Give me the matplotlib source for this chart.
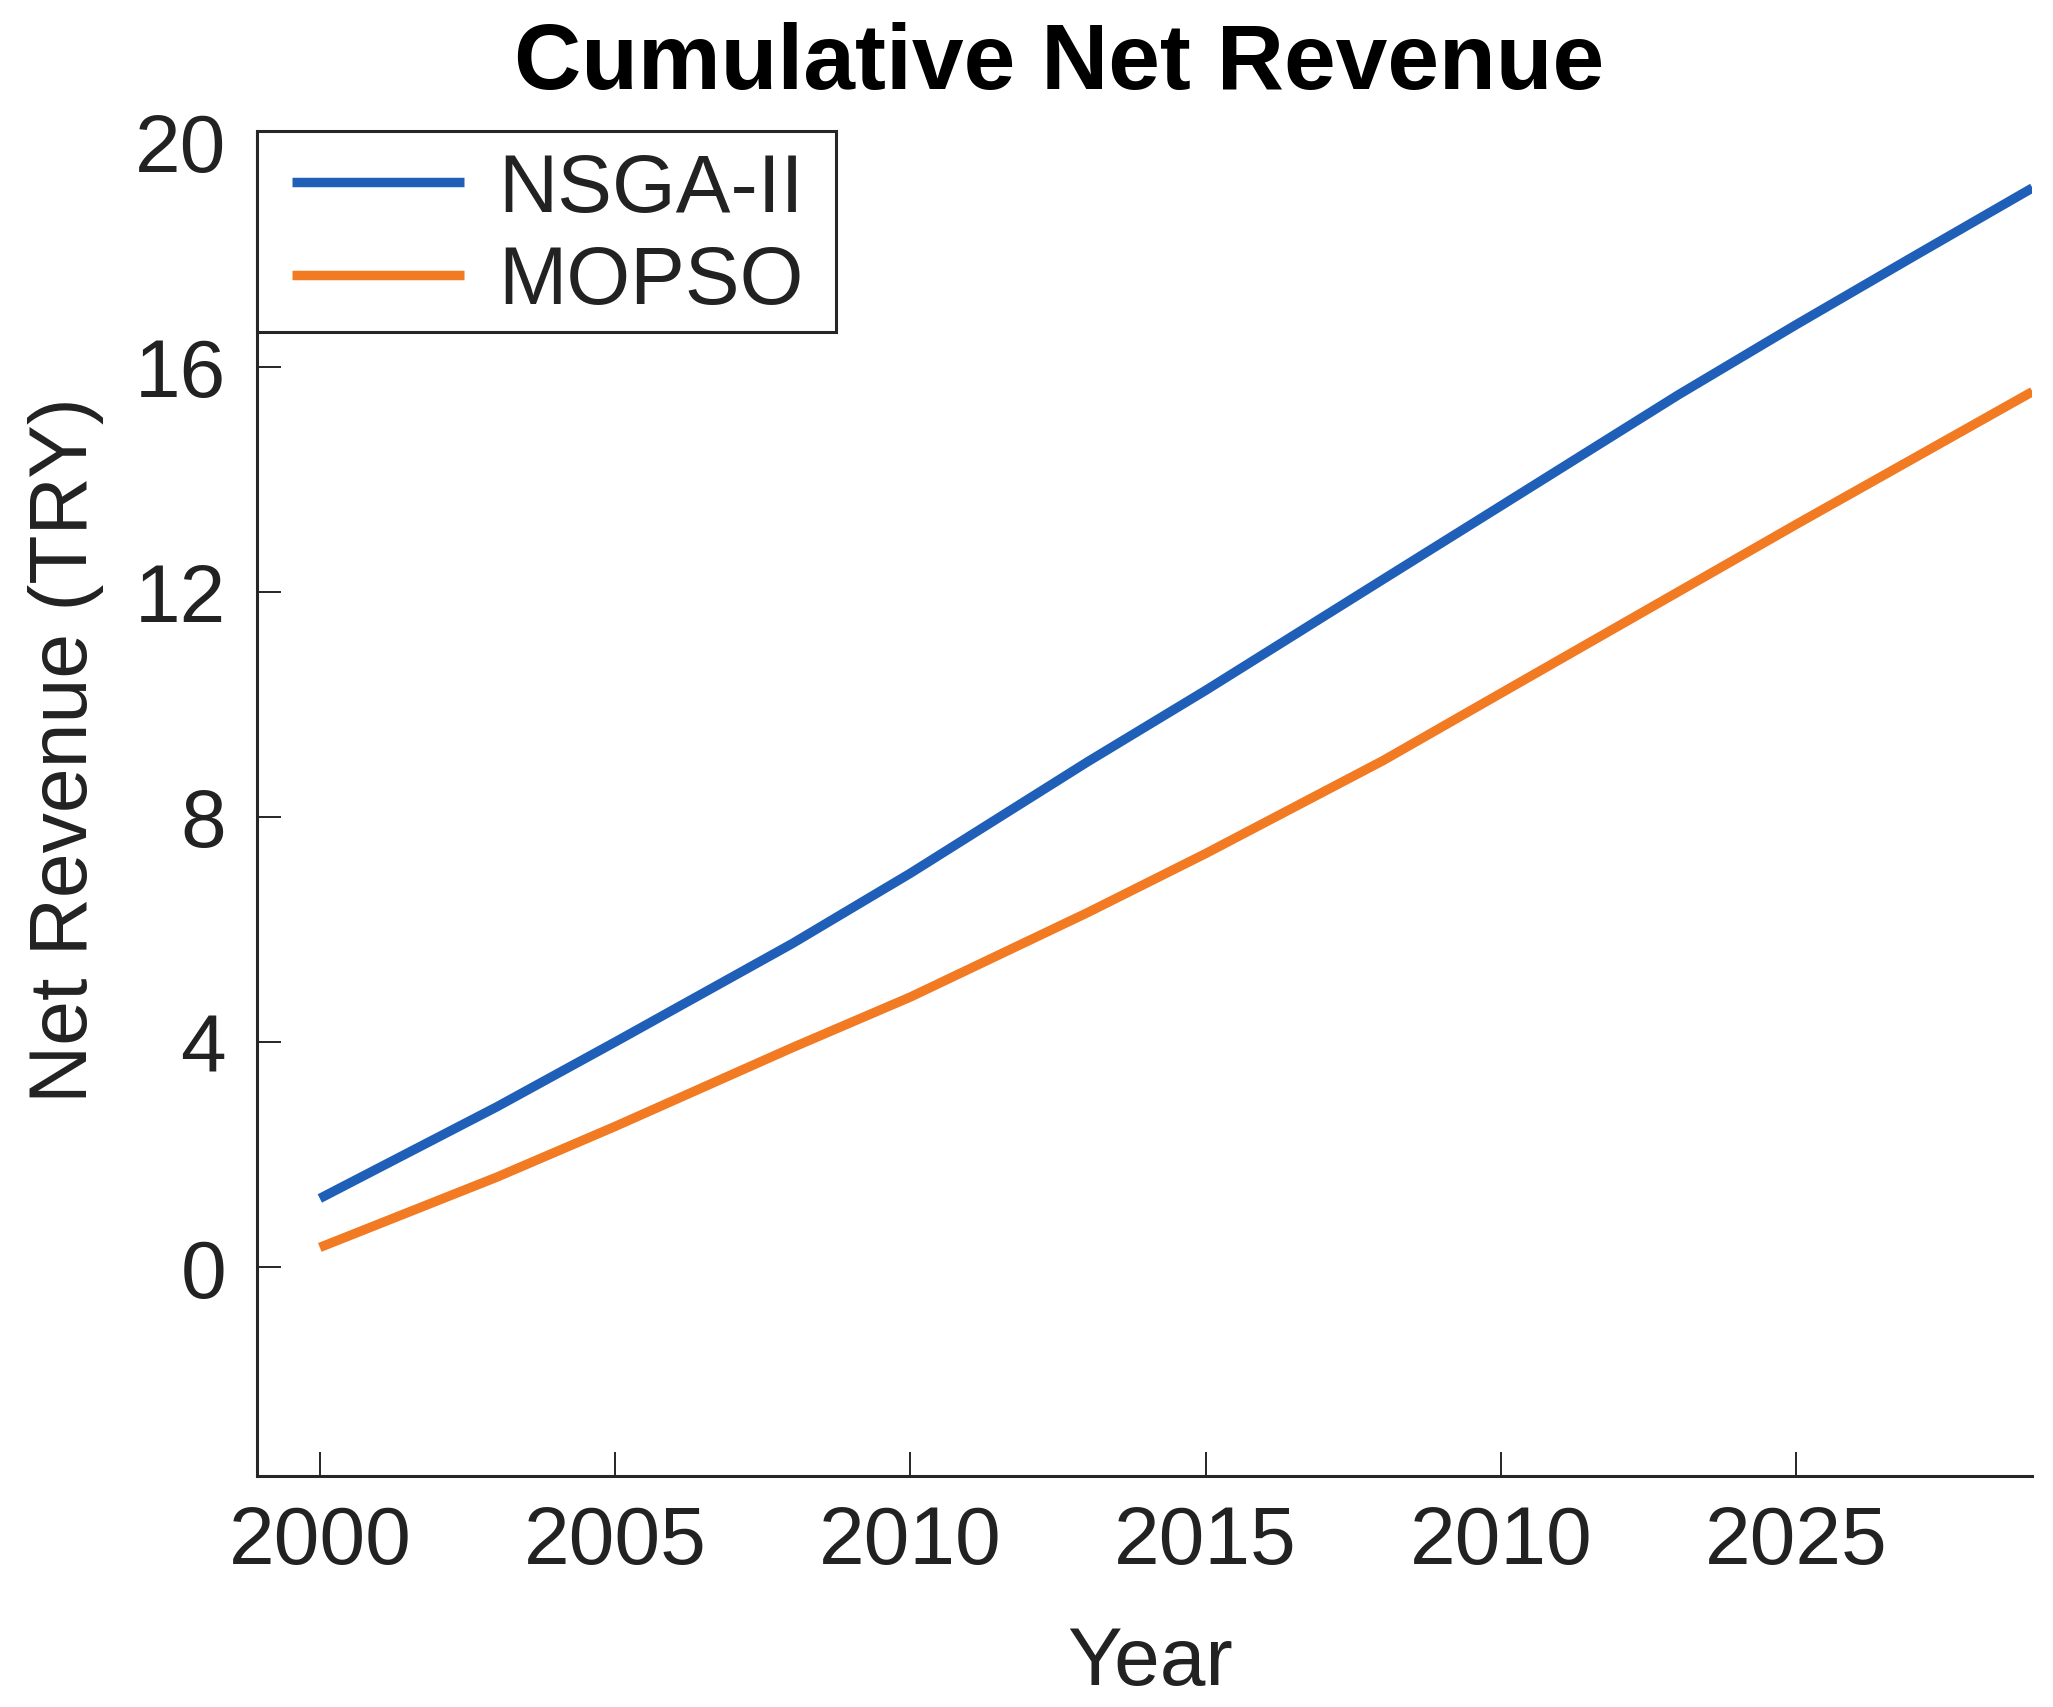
import matplotlib
matplotlib.use("Agg")
import matplotlib.pyplot as plt
from matplotlib.patches import Rectangle

plt.rcParams["font.family"] = ["Liberation Sans", "DejaVu Sans"]

# values
years = [2000, 2003, 2005, 2008, 2010, 2013, 2015, 2018, 2020, 2023, 2025, 2027, 2029]
nsga2 = [1.22, 2.85, 4.0, 5.75, 7.0, 8.98, 10.25, 12.22, 13.53, 15.5, 16.75, 17.97, 19.18]
mopso = [0.35, 1.6, 2.5, 3.9, 4.8, 6.3, 7.35, 9.0, 10.2, 12.0, 13.2, 14.38, 15.56]

x_ticks = [2000, 2005, 2010, 2015, 2020, 2025]
x_ticklabels = ["2000", "2005", "2010", "2015", "2010", "2025"]
y_ticks = [0, 4, 8, 12, 16, 20]

BLUE = "#1F5FB8"
ORANGE = "#F17A22"
TXT = "#222222"
FS = 59

fig = plt.figure(figsize=(20.53, 17.08), dpi=100)
ax = fig.add_axes([0.125, 0.135, 0.865, 0.788])

ax.plot(years, nsga2, color=BLUE, linewidth=6.8, label="NSGA-II", solid_capstyle="butt")
ax.plot(years, mopso, color=ORANGE, linewidth=6.8, label="MOPSO", solid_capstyle="butt")

ax.set_xlim(1998.93, 2029.0)
ax.set_ylim(-3.72, 20.2)
ax.set_xticks(x_ticks)
ax.set_xticklabels(x_ticklabels)
ax.set_yticks(y_ticks)

for side in ["top", "right"]:
    ax.spines[side].set_visible(False)
for side in ["left", "bottom"]:
    ax.spines[side].set_linewidth(2.2)
    ax.spines[side].set_color("#262626")

ax.tick_params(direction="in", length=17, width=1.4, colors="#262626",
               labelsize=FS, labelcolor=TXT, pad=20)
ax.tick_params(axis="y", pad=22)

fig.text(0.516, 0.962, "Cumulative Net Revenue", fontsize=67, fontweight="bold",
         ha="center", va="center", color="black")
fig.text(0.560, 0.026, "Year", fontsize=FS, ha="center", va="center", color=TXT)
fig.text(0.032, 0.561, "Net Revenue (TRY)", fontsize=FS - 1, rotation=90,
         ha="center", va="center", color=TXT)

# legend box drawn separately so its padding matches the MATLAB look
ax.add_patch(Rectangle((0.0, 0.8506), 0.326, 0.1494, transform=ax.transAxes,
                       facecolor="white", edgecolor="#262626", linewidth=2.2,
                       clip_on=False, zorder=4))
leg = ax.legend(loc="upper left", bbox_to_anchor=(0.0197, 0.984), borderaxespad=0,
                fontsize=FS, frameon=False, handlelength=2.1, handletextpad=0.42,
                borderpad=0, labelspacing=0.2)
leg.set_zorder(5)
for t in leg.get_texts():
    t.set_color(TXT)

fig.savefig("out.png", dpi=100)
